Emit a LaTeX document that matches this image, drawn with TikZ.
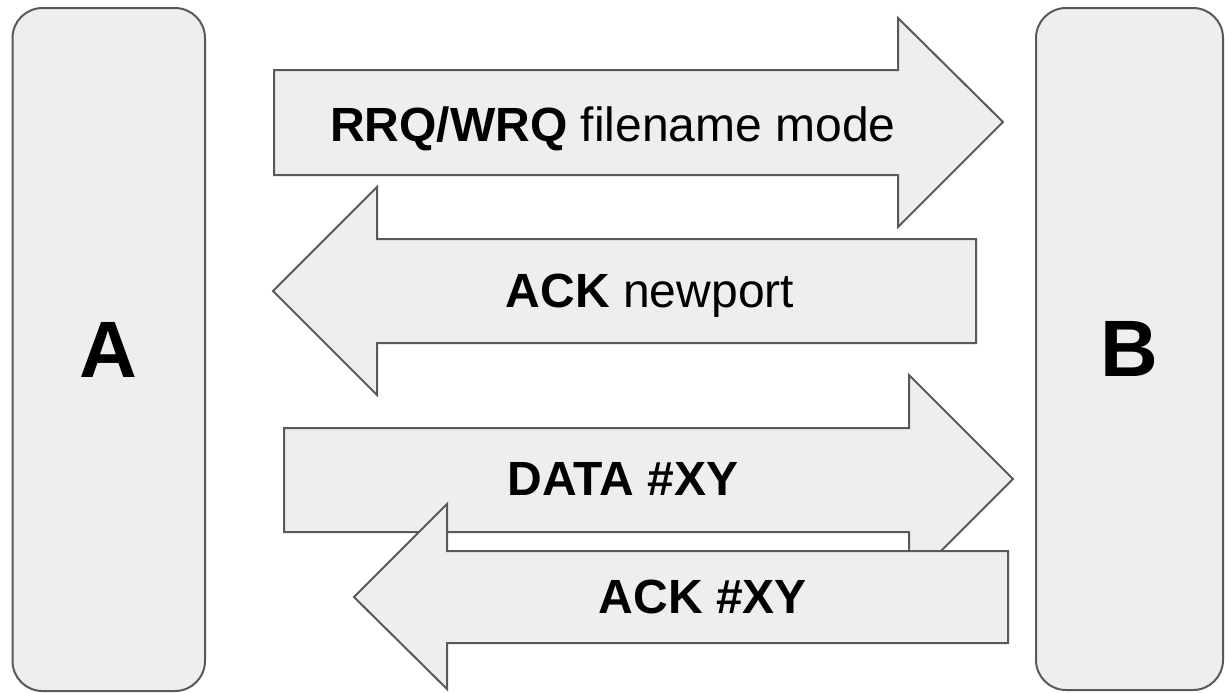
\documentclass[tikz,border=0pt]{standalone}
\usepackage{fontspec}
\setmainfont{Liberation Sans}
\definecolor{boxfill}{HTML}{EEEEEE}
\definecolor{boxline}{HTML}{595959}
\tikzset{
  host/.style={draw=boxline, fill=boxfill, line width=1pt, rounded corners=15pt,
    font=\fontsize{40}{48}\selectfont\bfseries},
  msg/.style={draw=boxline, fill=boxfill, line width=1pt, line join=miter},
  msgtext/.style={anchor=base, inner sep=0pt, font=\fontsize{24}{28}\selectfont}
}
\begin{document}
\begin{tikzpicture}[x=0.5pt,y=-0.5pt]
  \useasboundingbox (0,0) rectangle (1225,692);
  \node[host, minimum width=96.25pt, minimum height=341.5pt] (A) at (108.75,349.5) {A};
  \node[host, minimum width=93.5pt, minimum height=341pt] (B) at (1129.5,349) {B};
  % request, answer, data, acknowledgement
  \draw[msg] (274,70)--(898,70)--(898,18)--(1003,122)--(898,227)--(898,175)--(274,175)--cycle;
  \draw[msg] (976,239)--(377,239)--(377,187)--(273,291)--(377,395)--(377,343)--(976,343)--cycle;
  \draw[msg] (284,428)--(909,428)--(909,375)--(1013,479)--(909,583)--(909,532)--(284,532)--cycle;
  \draw[msg] (1008,551)--(447,551)--(447,504)--(354,597)--(447,689)--(447,643)--(1008,643)--cycle;
  \node[msgtext] (rrq) at (613,141) {\textbf{RRQ/WRQ} filename mode};
  \node[msgtext] (newport) at (650,307) {\textbf{ACK} newport};
  \node[msgtext] (data) at (623,495) {\textbf{DATA \#XY}};
  \node[msgtext] (ackxy) at (703,613) {\textbf{ACK \#XY}};
\end{tikzpicture}
\end{document}
